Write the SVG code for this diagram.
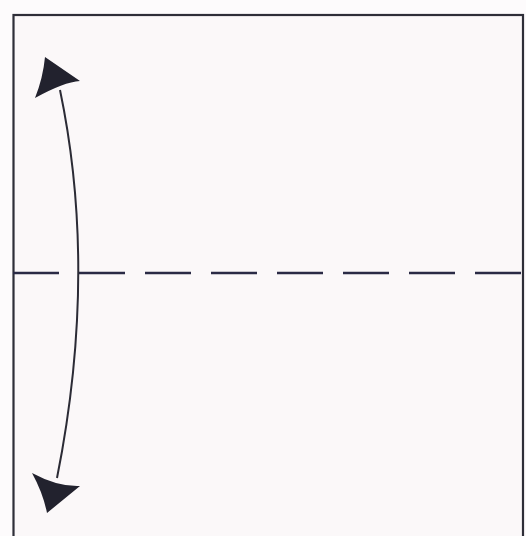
<svg xmlns="http://www.w3.org/2000/svg" width="526" height="536" viewBox="0 0 526 536">
<style>
.edge{fill:#fbf8f9;stroke:#2e2e38;stroke-width:2.2}
.fold{fill:none;stroke:#2a2a45;stroke-width:2.5;stroke-dasharray:46 20}
.arc{fill:none;stroke:#2b2b35;stroke-width:2}
.head{fill:#22222e;stroke:none}
</style>
<rect x="0" y="0" width="526" height="536" fill="#fdfbfc"/>
<g id="paper">
<rect class="edge" x="13.5" y="15" width="509.5" height="540"/>
</g>
<g id="connectors">
<line class="fold" x1="13" y1="273" x2="523" y2="273"/>
<path class="arc" d="M60,90 Q98,272 57,478"/>
<path class="head" d="M45,57 L80,81 Q64,82 35,98 Q43,78 45,57 Z"/>
<path class="head" d="M47,513 Q43,493 32,473 Q58,487 80,486 Z"/>
</g>
</svg>
